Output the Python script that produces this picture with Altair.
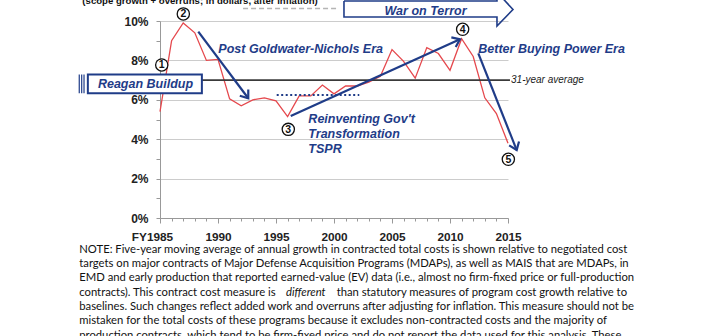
import math
import altair as alt
import pandas as pd

# ---------------- data ----------------
years = list(range(1985, 2016))
growth = [5.4, 9.0, 9.9, 9.4, 8.0, 8.05, 6.05, 5.7, 6.0, 6.1,
          5.95, 5.15, 6.2, 6.2, 6.75, 6.3, 6.7, 6.7, 6.9, 7.2,
          8.55, 7.95, 7.1, 8.65, 8.35, 7.5, 9.1, 8.2, 6.1, 5.3, 3.8]
avg_value = 7.0
avg_span = [1985, 2015.17]

circle_labels = ["1", "2", "3", "4", "5"]
circle_year = [1985.15, 1987.01, 1996.06, 2011.09, 2015.03]
circle_pct = [7.77, 10.36, 4.50, 9.58, 2.98]

arrow_ids = ["a1", "a2", "a3"]
arrow_start_year = [1988.30, 1996.27, 2012.44]
arrow_start_pct = [9.46, 5.18, 8.36]
arrow_end_year = [1992.61, 2010.86, 2015.75]
arrow_end_pct = [6.08, 9.07, 3.45]

dotted_span = [1995.06, 2002.18]
dotted_pct = 6.24

era_left_text = ["Post Goldwater-Nichols Era", "Better Buying Power Era",
                 "Reinventing Gov't", "Transformation", "TSPR"]
era_left_year = [1990.03, 2012.44, 1997.79, 1997.79, 1997.79]
era_left_pct = [8.56, 8.56, 5.01, 4.26, 3.49]

era_center_text = ["War on Terror", "Reagan Buildup"]
era_center_year = [2007.89, 1983.75]
era_center_pct = [10.52, 6.82]

avg_label = "31-year average"
avg_label_year = 2015.26

title_text = "(scope growth + overruns; in dollars, after inflation)"
title_year = 1988.45
title_pct = 10.84

faded_span = [1992.16, 2000.26]
faded_pct = 10.63

reagan_box_year = [1978.78, 1988.61]
reagan_box_pct = [6.33, 7.29]
reagan_bar_years = [1978.04, 1978.25, 1978.45]

war_arrow_year = [2000.86, 2014.05, 2014.05, 2015.43, 2014.05, 2014.05, 2000.86, 2000.86]
war_arrow_pct = [11.015, 11.015, 11.47, 10.58, 9.746, 10.203, 10.203, 11.015]

note_lines = [
    "NOTE: Five-year moving average of annual growth in contracted total costs is shown relative to negotiated cost",
    "targets on major contracts of Major Defense Acquisition Programs (MDAPs), as well as MAIS that are MDAPs, in",
    "EMD and early production that reported earned-value (EV) data (i.e., almost no firm-fixed price or full-production",
    "contracts). This contract cost measure is",
    "baselines. Such changes reflect added work and overruns after adjusting for inflation. This measure should not be",
    "mistaken for the total costs of these programs because it excludes non-contracted costs and the majority of",
    "production contracts, which tend to be firm-fixed price and do not report the data used for this analysis. These",
]
note_pct = [-1.624, -2.350, -3.071, -3.797, -4.523, -5.249, -5.970]
note_left_year = 1978.04
note_right_year = 2025.26
note_italic = "different"
note_italic_year = 1995.86
note_line4_tail = "than statutory measures of program cost growth relative to"

# ---------------- styling ----------------
W, H = 348, 197
BLUE = "#1f3c88"
RED = "#e5484d"
px_per_year = W / 30.0
px_per_pct = H / 10.0

xs = alt.Scale(domain=[1985, 2015], nice=False, zero=False)
ys = alt.Scale(domain=[0, 10], nice=False, zero=False)

x_axis = alt.Axis(
    values=years,
    labelExpr="datum.value % 5 == 0 ? (datum.value == 1985 ? 'FY1985' : '' + datum.value) : ''",
    labelFlush=False, labelOverlap=False,
    labelFont="Liberation Sans", labelFontWeight="bold", labelFontSize=11.8, labelColor="#222",
    labelOffset={"condition": {"test": "datum.value == 1985", "value": -8}, "value": 0},
    tickSize={"condition": {"test": "datum.value % 5 == 0", "value": 5}, "value": 3},
    tickColor="#999", domainColor="#999", labelPadding=8, grid=False)
y_axis = alt.Axis(
    values=list(range(0, 11)),
    labelExpr="datum.value % 2 == 0 ? datum.value + '%' : ''",
    labelFont="Liberation Sans", labelFontWeight="bold", labelFontSize=12, labelColor="#222",
    labelOverlap=False, labelFlush=False,
    tickSize=4, tickColor="#999", domainColor="#999", labelPadding=8,
    grid=True, gridColor="#cccccc",
    gridOpacity={"condition": {"test": "datum.value % 2 == 1", "value": 0}, "value": 1})


def X(f="year"):
    return alt.X(f"{f}:Q", scale=xs, axis=x_axis, title=None)


def Y(f="pct"):
    return alt.Y(f"{f}:Q", scale=ys, axis=y_axis, title=None)


# main series
df = pd.DataFrame({"year": years, "pct": growth})
line = alt.Chart(df).mark_line(color=RED, strokeWidth=1.3).encode(x=X(), y=Y())

# 31-year average
avg_df = pd.DataFrame({"x1": [avg_span[0]], "x2": [avg_span[1]], "pct": [avg_value]})
avg_rule = alt.Chart(avg_df).mark_rule(color="#3a3a3a", strokeWidth=1.8).encode(
    x=X("x1"), x2="x2:Q", y=Y())
avg_text = alt.Chart(pd.DataFrame({"year": [avg_label_year], "pct": [avg_value], "t": [avg_label]})).mark_text(
    align="left", baseline="middle", font="Liberation Sans", fontStyle="italic", fontSize=10, color="#222"
).encode(x=X(), y=Y(), text="t:N")

# dotted blue
dot_df = pd.DataFrame({"x1": [dotted_span[0]], "x2": [dotted_span[1]], "pct": [dotted_pct]})
dotted = alt.Chart(dot_df).mark_rule(color=BLUE, strokeWidth=2, strokeDash=[2, 2.5]).encode(
    x=X("x1"), x2="x2:Q", y=Y())

# faded top dashes
fd_df = pd.DataFrame({"x1": [faded_span[0]], "x2": [faded_span[1]], "pct": [faded_pct]})
faded = alt.Chart(fd_df).mark_rule(color="#b5b5b5", strokeWidth=1.5, strokeDash=[5, 3]).encode(
    x=X("x1"), x2="x2:Q", y=Y())

# blue arrows
rows, heads = [], []
for i, a in enumerate(arrow_ids):
    rows.append({"id": a, "o": 0, "year": arrow_start_year[i], "pct": arrow_start_pct[i]})
    rows.append({"id": a, "o": 1, "year": arrow_end_year[i], "pct": arrow_end_pct[i]})
    dx = (arrow_end_year[i] - arrow_start_year[i]) * px_per_year
    dy = -(arrow_end_pct[i] - arrow_start_pct[i]) * px_per_pct
    ang = math.degrees(math.atan2(dx, -dy)) % 360
    heads.append({"year": arrow_end_year[i], "pct": arrow_end_pct[i], "ang": ang})
arrow_lines = alt.Chart(pd.DataFrame(rows)).mark_line(color=BLUE, strokeWidth=2.2).encode(
    x=X(), y=Y(), detail="id:N", order="o:Q")
arrow_heads = alt.Chart(pd.DataFrame(heads)).mark_point(
    shape="M-0.75,1L0,0L0.75,1", filled=False, stroke=BLUE, strokeWidth=2.2, size=200, opacity=1
).encode(x=X(), y=Y(), angle=alt.Angle("ang:Q", scale=None))

# War on Terror block arrow
war_df = pd.DataFrame({"year": war_arrow_year, "pct": war_arrow_pct, "o": list(range(len(war_arrow_year)))})
war_shape = alt.Chart(war_df).mark_line(color=BLUE, strokeWidth=1.6).encode(
    x=X(), y=Y(), order="o:Q")

# Reagan box
box_df = pd.DataFrame({"x1": [reagan_box_year[0]], "x2": [reagan_box_year[1]],
                       "y1": [reagan_box_pct[0]], "y2": [reagan_box_pct[1]]})
box = alt.Chart(box_df).mark_rect(fill="white", stroke=BLUE, strokeWidth=2).encode(
    x=X("x1"), x2="x2:Q", y=Y("y1"), y2="y2:Q")
bars_df = pd.DataFrame({"year": reagan_bar_years, "y1": [reagan_box_pct[0]] * 3, "y2": [reagan_box_pct[1]] * 3})
bars = alt.Chart(bars_df).mark_rule(color=BLUE, strokeWidth=1.2).encode(
    x=X(), y=Y("y1"), y2="y2:Q")

# era texts
era_font = dict(font="Liberation Sans", fontWeight="bold", fontStyle="italic", fontSize=12.5, color=BLUE)
era_left = alt.Chart(pd.DataFrame({"year": era_left_year, "pct": era_left_pct, "t": era_left_text})).mark_text(
    align="left", baseline="middle", **era_font).encode(x=X(), y=Y(), text="t:N")
era_center = alt.Chart(pd.DataFrame({"year": era_center_year, "pct": era_center_pct, "t": era_center_text})).mark_text(
    align="center", baseline="middle", **era_font).encode(x=X(), y=Y(), text="t:N")

# title fragment
title = alt.Chart(pd.DataFrame({"year": [title_year], "pct": [title_pct], "t": [title_text]})).mark_text(
    align="center", baseline="alphabetic", font="Liberation Sans", fontWeight="bold", fontSize=9.6, color="#111"
).encode(x=X(), y=Y(), text="t:N")

# numbered circles
cdf = pd.DataFrame({"year": circle_year, "pct": circle_pct, "t": circle_labels})
circles = alt.Chart(cdf).mark_point(shape="circle", filled=True, fill="white", stroke="#111",
                                    strokeWidth=1.3, size=150, opacity=1).encode(x=X(), y=Y())
circle_text = alt.Chart(cdf).mark_text(align="center", baseline="middle", font="Liberation Sans",
                                       fontWeight="bold", fontSize=10.5, color="#111", dy=0.5).encode(
    x=X(), y=Y(), text="t:N")

# footnote
note_font = dict(font="Lato", fontSize=11.25, color="#111", baseline="middle")
note_df = pd.DataFrame({"year": [note_left_year] * len(note_lines), "pct": note_pct, "t": note_lines})
note = alt.Chart(note_df).mark_text(align="left", **note_font).encode(x=X(), y=Y(), text="t:N")
note_it = alt.Chart(pd.DataFrame({"year": [note_italic_year], "pct": [note_pct[3]], "t": [note_italic]})).mark_text(
    align="left", fontStyle="italic", **note_font).encode(x=X(), y=Y(), text="t:N")
note_tail = alt.Chart(pd.DataFrame({"year": [note_right_year], "pct": [note_pct[3]], "t": [note_line4_tail]})).mark_text(
    align="right", **note_font).encode(x=X(), y=Y(), text="t:N")

chart = alt.layer(
    line, avg_rule, dotted, faded, arrow_lines, arrow_heads, war_shape, box, bars,
    era_left, era_center, avg_text, title, circles, circle_text, note, note_it, note_tail
).properties(
    width=W, height=H,
    autosize=alt.AutoSizeParams(type="none"),
    padding={"left": 160, "top": 21, "right": 194, "bottom": 118},
).configure_view(stroke=None)

chart.save("out.html", embed_options={"renderer": "svg", "actions": False})
